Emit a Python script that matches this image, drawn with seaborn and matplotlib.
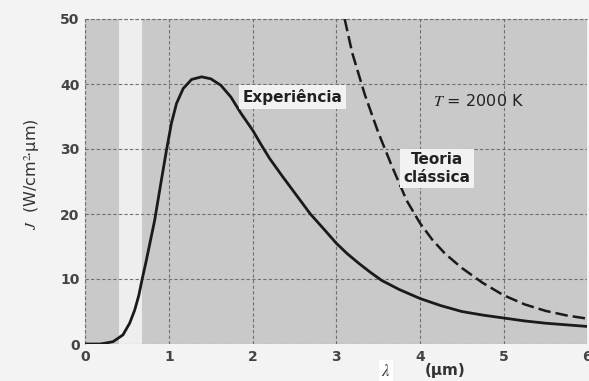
import matplotlib
matplotlib.use("Agg")
import matplotlib.pyplot as plt
import seaborn as sns
import pandas as pd

exp_lambda = [0.0, 0.18, 0.33, 0.45, 0.53, 0.59, 0.64, 0.68, 0.73, 0.78, 0.83,
              0.90, 0.97, 1.03, 1.09, 1.17, 1.27, 1.39, 1.50, 1.62, 1.74,
              1.86, 2.0, 2.1, 2.2, 2.35, 2.5, 2.69, 2.85, 3.0, 3.13, 3.27,
              3.4, 3.54, 3.75, 4.0, 4.25, 4.5, 4.75, 5.0, 5.25, 5.5, 5.75, 6.0]
exp_J = [0.0, 0.0, 0.35, 1.4, 3.2, 5.2, 7.5, 10.0, 12.9, 16.0, 19.1,
         24.5, 29.8, 34.0, 37.0, 39.3, 40.7, 41.1, 40.8, 39.8, 38.0,
         35.5, 32.9, 30.7, 28.6, 25.9, 23.3, 20.0, 17.7, 15.5, 13.9, 12.4,
         11.1, 9.8, 8.4, 7.0, 5.9, 5.0, 4.45, 4.0, 3.55, 3.2, 2.95, 2.7]

# Classical theory (dashed)
cls_lambda = [3.10, 3.19, 3.34, 3.5, 3.66, 3.84, 4.0, 4.15, 4.3, 4.5, 4.75,
              5.0, 5.25, 5.5, 5.75, 6.0]
cls_J = [50.0, 44.8, 38.4, 32.6, 27.5, 22.1, 18.6, 16.0, 13.9, 11.7, 9.4,
         7.5, 6.1, 5.1, 4.4, 3.9]

x_ticks = [0, 1, 2, 3, 4, 5, 6]
y_ticks = [0, 10, 20, 30, 40, 50]

sns.set_style("white")
plt.rcParams['font.family'] = ['DejaVu Sans']
plt.rcParams['mathtext.fontset'] = 'stix'

fig = plt.figure(figsize=(5.89, 3.81), dpi=100, facecolor='#f3f3f3')
ax = fig.add_axes([85.3 / 589, 1 - 344 / 381, (587.3 - 85.3) / 589, (344 - 19) / 381])
ax.set_facecolor('#c9c9c9')

ax.axvspan(0.4, 0.68, color='#eeeeee', zorder=0.5, lw=0)

df_exp = pd.DataFrame({'lam': exp_lambda, 'J': exp_J})
df_cls = pd.DataFrame({'lam': cls_lambda, 'J': cls_J})
sns.lineplot(data=df_exp, x='lam', y='J', ax=ax, color='#1a1a1a', lw=2.0, zorder=3)
sns.lineplot(data=df_cls, x='lam', y='J', ax=ax, color='#1a1a1a', lw=1.8,
             zorder=3, dashes=False, linestyle=(0, (5, 2)))

ax.set_xlim(0, 6)
ax.set_ylim(0, 50)
ax.set_xticks(x_ticks)
ax.set_yticks(y_ticks)
ax.set_xticklabels([str(v) for v in x_ticks])
ax.set_yticklabels([str(v) for v in y_ticks])
ax.tick_params(length=0, labelsize=10, colors='#444444', pad=4)
for lab in ax.get_xticklabels() + ax.get_yticklabels():
    lab.set_fontweight('bold')
ax.grid(True, color='#707070', lw=0.8, linestyle=(0, (3, 2)))
for s in ax.spines.values():
    s.set_visible(False)
ax.axhline(50, color='#707070', lw=0.8, linestyle=(0, (3, 2)), clip_on=False)
ax.axvline(0, color='#707070', lw=0.8, linestyle=(0, (3, 2)), clip_on=False)
ax.set_xlabel('')
ax.set_ylabel('')

fig.text(32 / 589, 1 - 174 / 381, r'$J$  (W/cm$^2\!$·µm)', rotation=90,
         ha='center', va='center', fontsize=11.5, color='#333333')
fig.text(386 / 589, 1 - 371 / 381, r'$\lambda$', ha='center', va='center',
         fontsize=12, color='#333333',
         bbox=dict(facecolor='white', edgecolor='none', pad=1.5))
fig.text(445 / 589, 1 - 371 / 381, '(µm)', ha='center', va='center',
         fontsize=11, fontweight='bold', color='#333333')

box = dict(facecolor='#f2f2f2', edgecolor='none', pad=2.5)
ax.text(2.48, 38.0, 'Experiência', ha='center', va='center', fontsize=11,
        fontweight='bold', color='#222222', bbox=box, zorder=4)
ax.text(4.70, 37.4, r'$T$ = 2000 K', ha='center', va='center', fontsize=11.5,
        color='#222222', zorder=4)
ax.text(4.2, 27.0, 'Teoria\nclássica', ha='center', va='center', fontsize=11,
        fontweight='bold', color='#222222', bbox=box, zorder=4, linespacing=1.2)

fig.savefig('out.png', dpi=100, facecolor=fig.get_facecolor())
